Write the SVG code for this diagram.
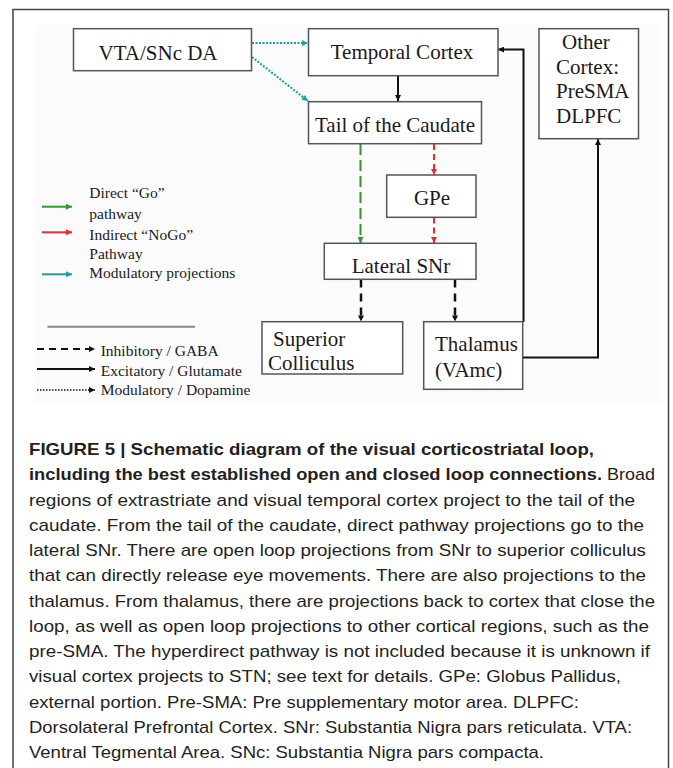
<svg xmlns="http://www.w3.org/2000/svg" width="673" height="768" viewBox="0 0 673 768">
<defs>
<style>
.box{fill:#fff;stroke:#555;stroke-width:1.5}
.nt{font-family:"Liberation Serif","Times New Roman",serif;font-size:21px;fill:#1a1a1a}
.lg{font-family:"Liberation Serif","Times New Roman",serif;font-size:15.5px;fill:#1a1a1a}
.cap{font-family:"Liberation Sans",Arial,sans-serif;font-size:17px;fill:#231f20}
.capb{font-family:"Liberation Sans",Arial,sans-serif;font-size:17px;font-weight:bold;fill:#231f20}
.k{fill:none;stroke:#111;stroke-width:2}
.kd{fill:none;stroke:#111;stroke-width:2.5;stroke-dasharray:8 6}
.g{fill:none;stroke:#2a9a2a;stroke-width:2;stroke-dasharray:11 5}
.r{fill:none;stroke:#ee2a2a;stroke-width:2;stroke-dasharray:6 4}
.t{fill:none;stroke:#1a9e9e;stroke-width:2;stroke-dasharray:2 1.5}
</style>
<marker id="ak" viewBox="0 0 10 10" refX="10" refY="5" markerWidth="7" markerHeight="6" markerUnits="userSpaceOnUse" orient="auto"><path d="M0,0 L10,5 L0,10 z" fill="#111"/></marker>
<marker id="ag" viewBox="0 0 10 10" refX="10" refY="5" markerWidth="7" markerHeight="6" markerUnits="userSpaceOnUse" orient="auto"><path d="M0,0 L10,5 L0,10 z" fill="#2a9a2a"/></marker>
<marker id="ar" viewBox="0 0 10 10" refX="10" refY="5" markerWidth="7" markerHeight="6" markerUnits="userSpaceOnUse" orient="auto"><path d="M0,0 L10,5 L0,10 z" fill="#ee2a2a"/></marker>
<marker id="at" viewBox="0 0 10 10" refX="10" refY="5" markerWidth="7" markerHeight="6" markerUnits="userSpaceOnUse" orient="auto"><path d="M0,0 L10,5 L0,10 z" fill="#1a9e9e"/></marker>
</defs>
<rect width="673" height="768" fill="#fff"/>
<path d="M13,768 V9.5 H668.5 V768" fill="none" stroke="#444" stroke-width="1.5"/>
<rect x="35" y="25" width="625" height="378" fill="#fbfbfb"/>

<g id="connectors">
<path class="t" d="M252,43 H308" marker-end="url(#at)"/>
<path class="t" d="M252,57 L308,101" marker-end="url(#at)"/>
<path class="k" d="M398,76 V101" marker-end="url(#ak)"/>
<path class="g" d="M360.5,144 V243" marker-end="url(#ag)"/>
<path class="r" d="M434,144 V175" marker-end="url(#ar)"/>
<path class="r" d="M434,217.5 V243" marker-end="url(#ar)"/>
<path class="kd" d="M361,279.5 V321.5" marker-end="url(#ak)"/>
<path class="kd" d="M455,279.5 V321.5" marker-end="url(#ak)"/>
<path class="k" d="M523.5,322 V49.5 H498" marker-end="url(#ak)"/>
<path class="k" d="M523,357.5 H598 V139" marker-end="url(#ak)"/>
</g>

<g id="vta"><rect class="box" x="73.5" y="28.7" width="178" height="42"/><text class="nt" x="158" y="60" text-anchor="middle">VTA/SNc DA</text></g>
<g id="temporal"><rect class="box" x="308.5" y="28.7" width="189.5" height="47"/><text class="nt" x="402" y="59" text-anchor="middle">Temporal Cortex</text></g>
<g id="other"><rect class="box" x="539" y="28.7" width="99.5" height="110"/>
<text class="nt" x="562" y="49">Other</text><text class="nt" x="556" y="73.5">Cortex:</text><text class="nt" x="556" y="98">PreSMA</text><text class="nt" x="556" y="123">DLPFC</text></g>
<g id="tail"><rect class="box" x="308.5" y="101.7" width="173" height="42"/><text class="nt" x="395" y="132" text-anchor="middle">Tail of the Caudate</text></g>
<g id="gpe"><rect class="box" x="386.7" y="175" width="89.3" height="42.3"/><text class="nt" x="432" y="205" text-anchor="middle">GPe</text></g>
<g id="snr"><rect class="box" x="324.3" y="243.3" width="151.7" height="36"/><text class="nt" x="401" y="273" text-anchor="middle">Lateral SNr</text></g>
<g id="sc"><rect class="box" x="262" y="321.7" width="140.7" height="52.3"/><text class="nt" x="273" y="346">Superior</text><text class="nt" x="268" y="369.5">Colliculus</text></g>
<g id="thal"><rect class="box" x="423.7" y="321.7" width="99" height="67.6"/><text class="nt" x="435" y="351">Thalamus</text><text class="nt" x="435" y="377">(VAmc)</text></g>

<g id="legend">
<line x1="42" y1="206.7" x2="72" y2="206.7" stroke="#2a9a2a" stroke-width="2" marker-end="url(#ag)"/>
<line x1="42" y1="232.3" x2="72" y2="232.3" stroke="#ee2a2a" stroke-width="2" marker-end="url(#ar)"/>
<line x1="42" y1="274.3" x2="72" y2="274.3" stroke="#1a9e9e" stroke-width="2" marker-end="url(#at)"/>
<text class="lg" x="89.3" y="197.5">Direct “Go”</text>
<text class="lg" x="89.3" y="218.5">pathway</text>
<text class="lg" x="89.3" y="240">Indirect “NoGo”</text>
<text class="lg" x="89.3" y="258.5">Pathway</text>
<text class="lg" x="89.3" y="277.5">Modulatory projections</text>
<line x1="47.5" y1="326.7" x2="195" y2="326.7" stroke="#888" stroke-width="2"/>
<line x1="37" y1="349" x2="95" y2="349" stroke="#111" stroke-width="2" stroke-dasharray="7 5" marker-end="url(#ak)"/>
<line x1="37" y1="369" x2="95" y2="369" stroke="#111" stroke-width="2" marker-end="url(#ak)"/>
<line x1="37" y1="390" x2="95" y2="390" stroke="#111" stroke-width="1.5" stroke-dasharray="1.5 1.5" marker-end="url(#ak)"/>
<text class="lg" x="100.7" y="356">Inhibitory / GABA</text>
<text class="lg" x="100.7" y="375.5">Excitatory / Glutamate</text>
<text class="lg" x="100.7" y="395">Modulatory / Dopamine</text>
</g>

<g id="caption">
<text class="capb" x="29" y="455" textLength="565" lengthAdjust="spacingAndGlyphs">FIGURE 5 | Schematic diagram of the visual corticostriatal loop,</text>
<text class="capb" x="29" y="480.3" textLength="573" lengthAdjust="spacingAndGlyphs">including the best established open and closed loop connections.</text>
<text class="cap" x="607" y="480.3" textLength="48" lengthAdjust="spacingAndGlyphs">Broad</text>
<text class="cap" x="29" y="505.5" textLength="606" lengthAdjust="spacingAndGlyphs">regions of extrastriate and visual temporal cortex project to the tail of the</text>
<text class="cap" x="29" y="530.8" textLength="615" lengthAdjust="spacingAndGlyphs">caudate. From the tail of the caudate, direct pathway projections go to the</text>
<text class="cap" x="29" y="556" textLength="617" lengthAdjust="spacingAndGlyphs">lateral SNr. There are open loop projections from SNr to superior colliculus</text>
<text class="cap" x="29" y="581.3" textLength="617" lengthAdjust="spacingAndGlyphs">that can directly release eye movements. There are also projections to the</text>
<text class="cap" x="29" y="606.5" textLength="626" lengthAdjust="spacingAndGlyphs">thalamus. From thalamus, there are projections back to cortex that close the</text>
<text class="cap" x="29" y="631.8" textLength="620" lengthAdjust="spacingAndGlyphs">loop, as well as open loop projections to other cortical regions, such as the</text>
<text class="cap" x="29" y="657" textLength="621" lengthAdjust="spacingAndGlyphs">pre-SMA. The hyperdirect pathway is not included because it is unknown if</text>
<text class="cap" x="29" y="682.3" textLength="592" lengthAdjust="spacingAndGlyphs">visual cortex projects to STN; see text for details. GPe: Globus Pallidus,</text>
<text class="cap" x="29" y="707.5" textLength="550" lengthAdjust="spacingAndGlyphs">external portion. Pre-SMA: Pre supplementary motor area. DLPFC:</text>
<text class="cap" x="29" y="732.8" textLength="603" lengthAdjust="spacingAndGlyphs">Dorsolateral Prefrontal Cortex. SNr: Substantia Nigra pars reticulata. VTA:</text>
<text class="cap" x="29" y="758" textLength="515" lengthAdjust="spacingAndGlyphs">Ventral Tegmental Area. SNc: Substantia Nigra pars compacta.</text>
</g>
</svg>
